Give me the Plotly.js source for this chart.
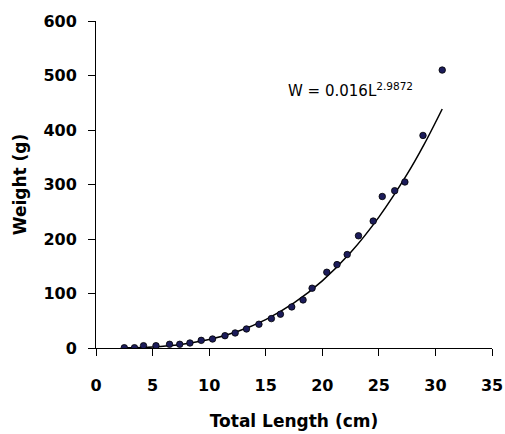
<!DOCTYPE html>
<html>
<head>
<meta charset="utf-8">
<script src="https://cdn.plot.ly/plotly-3.0.1.min.js"></script>
<style>html,body{margin:0;padding:0;background:#fff;}#chart{width:505px;height:434px;}</style>
</head>
<body>
<div id="chart"></div>
<script>
// Observed fish: total length (cm) and weight (g)
var lengthCm = [2.5, 3.4, 4.2, 5.3, 6.5, 7.4, 8.3, 9.3, 10.3, 11.4, 12.3, 13.3, 14.4, 15.5, 16.3, 17.3, 18.3, 19.1, 20.4, 21.3, 22.2, 23.2, 24.5, 25.3, 26.4, 27.3, 28.9, 30.6];
var weightG  = [0.5, 0.5, 4.2, 4.2, 6.8, 6.8, 9.2, 14, 16.5, 22.6, 27.6, 34.9, 43.6, 53.9, 62, 75.4, 88.2, 109.7, 139, 153, 171.5, 205.9, 232.9, 278, 288.6, 304.6, 390, 510];
// Fitted curve W = 0.016 L^2.9872
var fitLength = [2.5, 5, 7.5, 10, 12.5, 15, 17.5, 20, 22.5, 25, 27.5, 29, 30.6];
var fitWeight = [0.25, 2.0, 6.6, 15.5, 30.3, 52.2, 82.7, 123.2, 175.2, 240.2, 318.9, 373.6, 438.6];
var xTicks = [0, 5, 10, 15, 20, 25, 30, 35];
var yTicks = [0, 100, 200, 300, 400, 500, 600];
var equationText = 'W = 0.016L<sup>2.9872</sup>';

var font = '"DejaVu Sans", Arial, sans-serif';

var traces = [
  {
    x: fitLength, y: fitWeight, type: 'scatter', mode: 'lines',
    line: {color: '#000000', width: 1.5, shape: 'spline'},
    hoverinfo: 'skip', showlegend: false
  },
  {
    x: lengthCm, y: weightG, type: 'scatter', mode: 'markers',
    marker: {color: '#1c1c5a', size: 6.5, line: {color: '#000000', width: 0.8}},
    showlegend: false
  }
];

var layout = {
  width: 505, height: 434,
  margin: {l: 96, r: 13, t: 21, b: 86, pad: 0},
  paper_bgcolor: '#ffffff', plot_bgcolor: '#ffffff',
  showlegend: false,
  font: {family: font, color: '#000000'},
  xaxis: {
    range: [0, 35], tickvals: xTicks, ticktext: xTicks.map(String),
    showgrid: false, zeroline: false, showline: true, linecolor: '#000', linewidth: 1,
    ticks: 'outside', ticklen: 7, tickcolor: '#000', tickwidth: 1,
    ticklabelstandoff: 16,
    tickfont: {family: font, size: 16, color: '#000', weight: 'bold'},
    title: {text: 'Total Length (cm)', font: {family: font, size: 17, color: '#000', weight: 'bold'}, standoff: 20}
  },
  yaxis: {
    range: [0, 600], tickvals: yTicks, ticktext: yTicks.map(String),
    showgrid: false, zeroline: false, showline: true, linecolor: '#000', linewidth: 1,
    ticks: 'outside', ticklen: 7, tickcolor: '#000', tickwidth: 1,
    ticklabelstandoff: 8,
    tickfont: {family: font, size: 16, color: '#000', weight: 'bold'},
    title: {text: 'Weight (g)', font: {family: font, size: 17, color: '#000', weight: 'bold'}, standoff: 12}
  },
  annotations: [
    {
      x: 0.48, y: 0.79, xref: 'paper', yref: 'paper', xanchor: 'left', yanchor: 'middle',
      text: equationText, showarrow: false,
      font: {family: font, size: 15, color: '#000'}
    }
  ]
};

Plotly.newPlot('chart', traces, layout, {displayModeBar: false, staticPlot: true});
</script>
</body>
</html>
